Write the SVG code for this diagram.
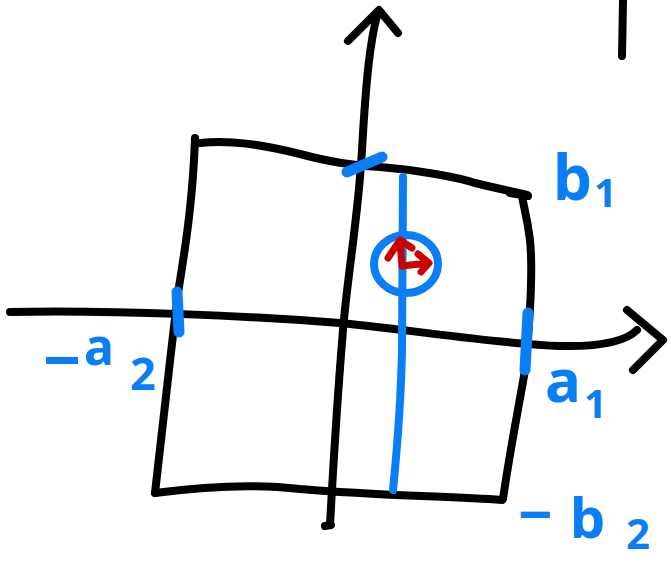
<svg xmlns="http://www.w3.org/2000/svg" width="671" height="562" viewBox="0 0 671 562">
<style>
.ink{fill:none;stroke:#000;stroke-width:8;stroke-linecap:round;stroke-linejoin:round}
.blue{fill:none;stroke:#0a7ff5;stroke-width:8;stroke-linecap:round;stroke-linejoin:round}
.tick{fill:none;stroke:#0a7ff5;stroke-width:11;stroke-linecap:round}
.red{fill:none;stroke:#cc0000;stroke-width:7;stroke-linecap:round;stroke-linejoin:round}
.lbl{font-family:"Noto Sans","DejaVu Sans",sans-serif;font-weight:bold;fill:#0a7ff5}
</style>
<rect width="671" height="562" fill="#fff"/>
<g id="connectors">
<path class="ink" d="M10,312 C120,310 250,316 340,323 C420,331 500,344 560,346 C600,347 625,342 637,330"/>
<path class="ink" d="M627,310 L663,340 L633,370"/>
<path class="ink" d="M330,525 C333,470 338,390 343,330 C348,270 358,220 362,150 C366,80 370,40 378,12"/>
<path class="ink" d="M325,526 L331,525"/>
<path class="ink" d="M348,41 L379,10 L398,33"/>
</g>
<g id="mark">
<path class="ink" d="M623,1 L622,56"/>
</g>
<g id="rectangle">
<path class="ink" d="M195,138 C193,200 185,250 178,293 C170,360 162,430 155,493"/>
<path class="ink" d="M155,493 C200,487 250,483 300,489 C380,496 450,496 502,500"/>
<path class="ink" d="M503,499 C510,450 520,400 525,370 C530,320 533,270 530,240 C527,215 523,205 522,195"/>
<path class="ink" d="M510,193 L528,196"/>
<path class="ink" d="M200,143 C230,140 260,144 300,154 C330,162 350,165 380,167 C420,170 460,178 475,183 C495,188 515,192 527,195"/>
</g>
<g id="ticks">
<path class="tick" d="M347,172 L382,157"/>
<path class="tick" d="M177,292 L179,332"/>
<path class="tick" d="M528,313 L525,370"/>
</g>
<g id="point">
<path class="blue" d="M403,177 L402,350 C401,400 397,450 393,490"/>
<ellipse class="blue" cx="406" cy="264" rx="32" ry="29"/>
<path class="red" d="M388,258 L400,240 L412,248 M400,242 L402,266 L428,263 M418,254 L429,263 L421,272"/>
</g>
<g id="labels">
<text class="lbl"><tspan x="553" y="200" font-size="62">b</tspan><tspan x="594" y="207" font-size="40">1</tspan></text>
<text class="lbl"><tspan x="545" y="402" font-size="60">a</tspan><tspan x="584" y="418" font-size="40">1</tspan></text>
<text class="lbl"><tspan x="43" y="384" font-size="66">−</tspan><tspan x="84" y="365" font-size="50">a</tspan><tspan x="130" y="390" font-size="45">2</tspan></text>
<text class="lbl"><tspan x="518" y="536" font-size="60">−</tspan><tspan x="570" y="538" font-size="56">b</tspan><tspan x="626" y="549" font-size="42">2</tspan></text>
</g>
</svg>
